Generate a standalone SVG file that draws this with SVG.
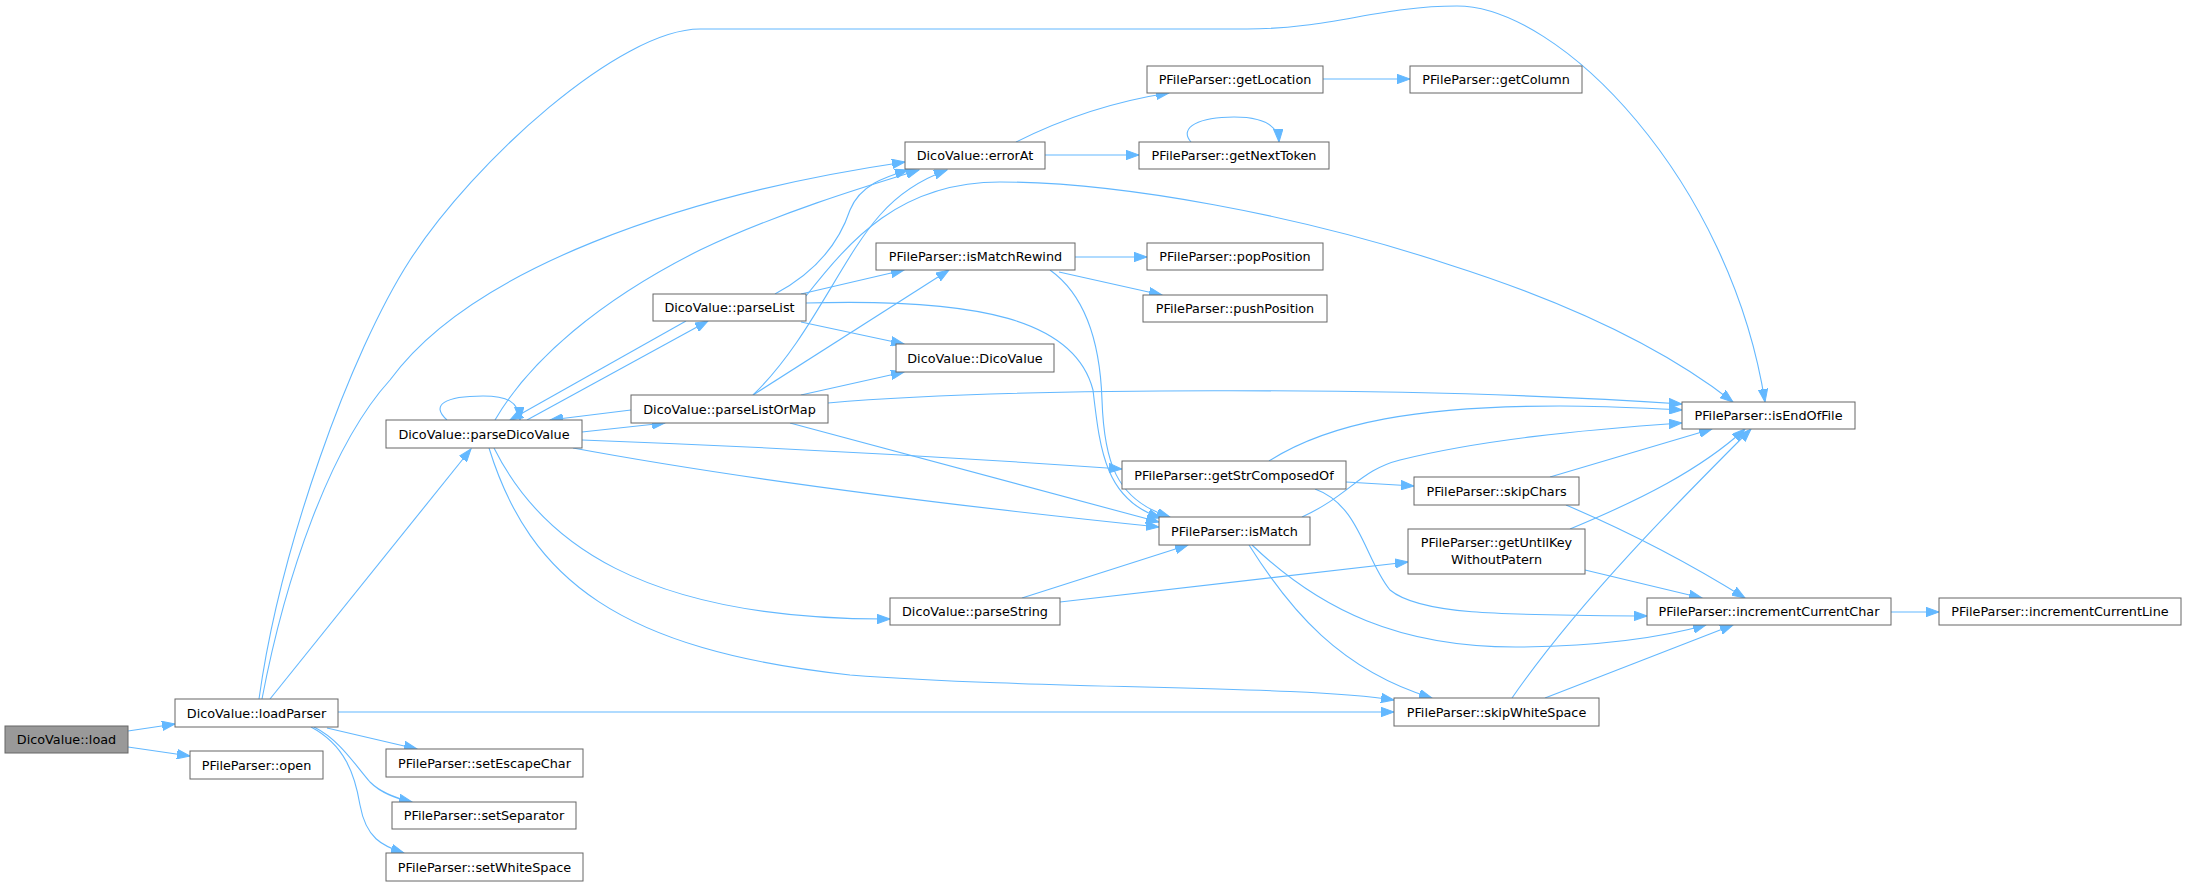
<svg xmlns="http://www.w3.org/2000/svg" width="2186" height="887" viewBox="0 0 2186 887">
<style>
.n rect{fill:#ffffff;stroke:#666666;stroke-width:1}
.n.root rect{fill:#999999}
.n text{font-family:"DejaVu Sans","Liberation Sans",sans-serif;font-size:12.8px;fill:#000000;text-anchor:middle}
.e path{fill:none;stroke:#63b8ff;stroke-width:1.1;marker-end:url(#ah)}
</style>
<defs>
<marker id="ah" markerWidth="14" markerHeight="10" refX="13" refY="5" orient="auto" markerUnits="userSpaceOnUse">
<path d="M0,0.3 L13,5 L0,9.7 z" fill="#63b8ff" stroke="#63b8ff" stroke-width="1"/>
</marker>
</defs>
<rect width="2186" height="887" fill="#ffffff"/>
<g id="edges" class="e">
<path d="M128,731 L175,724"/>
<path d="M128,747 L190,756"/>
<path d="M259,699 C280,548 350,353 410,260 C474,161 620,29 700,29 L1247,29 C1330,29 1380,6 1457,6 C1560,6 1730,180 1765,402"/>
<path d="M262,699 C285,578 330,446 390,380 C470,270 680,195 905,162"/>
<path d="M270,699 L471,449"/>
<path d="M338,712 L1394,712"/>
<path d="M327,728 L417,749"/>
<path d="M314,727 C340,740 355,765 370,782 C381,793 395,798 412,802"/>
<path d="M311,727 C345,745 355,775 360,805 C366,838 382,846 404,853"/>
<path d="M447,420 C430,405 445,396 483,396 C506,396 519,401 520,420"/>
<path d="M495,420 C530,360 600,300 700,250 C780,212 870,185 919,170"/>
<path d="M527,420 L708,321"/>
<path d="M686,321 L510,420"/>
<path d="M582,432 L665,423"/>
<path d="M631,410 L550,420"/>
<path d="M582,440 Q850,450 1122,469"/>
<path d="M573,448 Q800,490 1159,527"/>
<path d="M494,448 C540,540 640,620 890,619"/>
<path d="M489,448 C530,580 620,650 850,675 C1050,690 1300,685 1394,700"/>
<path d="M775,294 C820,270 840,240 850,210 C860,185 885,177 908,170"/>
<path d="M801,294 L904,270"/>
<path d="M806,296 C850,240 900,182 1000,182 C1120,182 1300,215 1450,265 C1560,300 1660,345 1733,402"/>
<path d="M806,303 C980,298 1075,320 1093,390 C1100,450 1105,500 1161,518"/>
<path d="M801,322 L904,344"/>
<path d="M753,395 C810,340 840,260 880,215 C900,192 925,178 947,170"/>
<path d="M753,395 L949,270"/>
<path d="M801,395 L904,372"/>
<path d="M828,403 C1000,388 1400,385 1682,404"/>
<path d="M790,423 L1159,522"/>
<path d="M1016,142 Q1090,105 1169,93"/>
<path d="M1045,155 L1139,155"/>
<path d="M1323,79 L1410,79"/>
<path d="M1191,142 C1178,127 1200,117 1234,117 C1262,117 1278,124 1279,142"/>
<path d="M1075,257 L1147,257"/>
<path d="M1059,272 L1162,295"/>
<path d="M1050,270 C1085,295 1100,340 1102,400 C1104,460 1115,500 1170,517"/>
<path d="M1269,461 C1330,422 1420,406 1560,406 C1610,406 1640,408 1682,410"/>
<path d="M1346,482 L1414,486"/>
<path d="M1315,489 C1360,505 1365,560 1390,590 C1420,615 1500,615 1647,616"/>
<path d="M1302,517 C1350,495 1360,470 1400,460 C1480,440 1580,430 1682,423"/>
<path d="M1252,545 C1320,610 1400,648 1520,647 C1600,646 1660,638 1706,625"/>
<path d="M1249,545 C1290,610 1340,670 1432,698"/>
<path d="M1550,477 L1712,429"/>
<path d="M1566,505 Q1660,545 1745,598"/>
<path d="M1570,529 C1640,500 1700,470 1745,429"/>
<path d="M1585,570 L1702,598"/>
<path d="M1022,598 L1188,545"/>
<path d="M1060,602 Q1250,580 1408,562"/>
<path d="M1512,698 C1580,600 1680,500 1751,429"/>
<path d="M1545,698 L1733,625"/>
<path d="M1891,612 L1939,612"/>
</g>
<g id="node-load" class="n root"><rect x="5" y="726" width="123" height="27"/><text x="66.5" y="744">DicoValue::load</text></g>
<g id="node-loadParser" class="n"><rect x="175" y="699" width="163" height="28"/><text x="256.5" y="717.5">DicoValue::loadParser</text></g>
<g id="node-open" class="n"><rect x="190" y="751" width="133" height="28"/><text x="256.5" y="769.5">PFileParser::open</text></g>
<g id="node-parseDicoValue" class="n"><rect x="386" y="420" width="196" height="28"/><text x="484" y="438.5">DicoValue::parseDicoValue</text></g>
<g id="node-setEscapeChar" class="n"><rect x="386" y="749" width="197" height="28"/><text x="484.5" y="767.5">PFileParser::setEscapeChar</text></g>
<g id="node-setSeparator" class="n"><rect x="392" y="802" width="184" height="27"/><text x="484" y="820">PFileParser::setSeparator</text></g>
<g id="node-setWhiteSpace" class="n"><rect x="386" y="853" width="197" height="28"/><text x="484.5" y="871.5">PFileParser::setWhiteSpace</text></g>
<g id="node-parseList" class="n"><rect x="653" y="294" width="153" height="27"/><text x="729.5" y="312">DicoValue::parseList</text></g>
<g id="node-parseListOrMap" class="n"><rect x="631" y="395" width="197" height="28"/><text x="729.5" y="413.5">DicoValue::parseListOrMap</text></g>
<g id="node-errorAt" class="n"><rect x="905" y="142" width="140" height="27"/><text x="975" y="160">DicoValue::errorAt</text></g>
<g id="node-isMatchRewind" class="n"><rect x="876" y="243" width="199" height="27"/><text x="975.5" y="261">PFileParser::isMatchRewind</text></g>
<g id="node-DicoValue" class="n"><rect x="896" y="344" width="158" height="28"/><text x="975" y="362.5">DicoValue::DicoValue</text></g>
<g id="node-parseString" class="n"><rect x="890" y="598" width="170" height="27"/><text x="975" y="616">DicoValue::parseString</text></g>
<g id="node-getStrComposedOf" class="n"><rect x="1122" y="461" width="224" height="28"/><text x="1234" y="479.5">PFileParser::getStrComposedOf</text></g>
<g id="node-isMatch" class="n"><rect x="1159" y="517" width="151" height="28"/><text x="1234.5" y="535.5">PFileParser::isMatch</text></g>
<g id="node-getLocation" class="n"><rect x="1147" y="66" width="176" height="27"/><text x="1235" y="84">PFileParser::getLocation</text></g>
<g id="node-getNextToken" class="n"><rect x="1139" y="142" width="190" height="27"/><text x="1234" y="160">PFileParser::getNextToken</text></g>
<g id="node-popPosition" class="n"><rect x="1147" y="243" width="176" height="27"/><text x="1235" y="261">PFileParser::popPosition</text></g>
<g id="node-pushPosition" class="n"><rect x="1143" y="295" width="184" height="27"/><text x="1235" y="313">PFileParser::pushPosition</text></g>
<g id="node-getColumn" class="n"><rect x="1410" y="66" width="172" height="27"/><text x="1496" y="84">PFileParser::getColumn</text></g>
<g id="node-skipChars" class="n"><rect x="1414" y="477" width="165" height="28"/><text x="1496.5" y="495.5">PFileParser::skipChars</text></g>
<g id="node-getUntilKeyWithoutPatern" class="n"><rect x="1408" y="529" width="177" height="45"/><text x="1496.5" y="547">PFileParser::getUntilKey</text><text x="1496.5" y="564">WithoutPatern</text></g>
<g id="node-skipWhiteSpace" class="n"><rect x="1394" y="698" width="205" height="28"/><text x="1496.5" y="716.5">PFileParser::skipWhiteSpace</text></g>
<g id="node-isEndOfFile" class="n"><rect x="1682" y="402" width="173" height="27"/><text x="1768.5" y="420">PFileParser::isEndOfFile</text></g>
<g id="node-incrementCurrentChar" class="n"><rect x="1647" y="598" width="244" height="27"/><text x="1769" y="616">PFileParser::incrementCurrentChar</text></g>
<g id="node-incrementCurrentLine" class="n"><rect x="1939" y="598" width="242" height="27"/><text x="2060" y="616">PFileParser::incrementCurrentLine</text></g>
</svg>
